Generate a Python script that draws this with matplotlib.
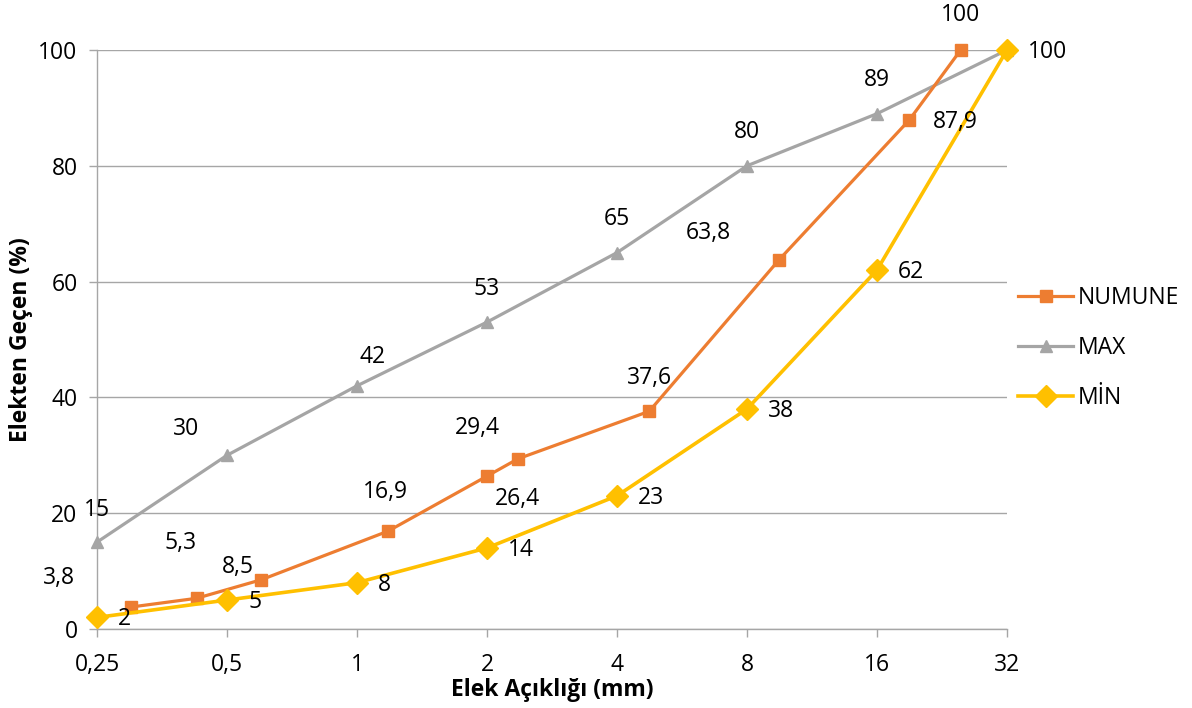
import matplotlib
matplotlib.use("Agg")
import matplotlib.pyplot as plt
from matplotlib.ticker import FixedLocator, NullLocator

plt.rcParams['font.family'] = ['Open Sans', 'DejaVu Sans']

# Sieve openings (mm) and percent passing
sieve_numune = [0.3, 0.425, 0.6, 1.18, 2.0, 2.36, 4.75, 9.5, 19.0, 25.0]
pass_numune = [3.8, 5.3, 8.5, 16.9, 26.4, 29.4, 37.6, 63.8, 87.9, 100]
label_numune = ["3,8", "5,3", "8,5", "16,9", "26,4", "29,4", "37,6", "63,8", "87,9", "100"]

sieve_limits = [0.25, 0.5, 1, 2, 4, 8, 16, 32]
pass_max = [15, 30, 42, 53, 65, 80, 89, 100]
pass_min = [2, 5, 8, 14, 23, 38, 62, 100]

x_ticks = [0.25, 0.5, 1, 2, 4, 8, 16, 32]
x_tick_labels = ["0,25", "0,5", "1", "2", "4", "8", "16", "32"]
y_ticks = [0, 20, 40, 60, 80, 100]

c_num = "#ED7D31"
c_max = "#A5A5A5"
c_min = "#FFC000"
grid_c = "#A6A6A6"
FS = 16.5

fig = plt.figure(figsize=(11.92, 7.08), dpi=100)
ax = fig.add_axes([97 / 1192, (708 - 629) / 708, 910 / 1192, 579 / 708])

ax.plot(sieve_numune, pass_numune, color=c_num, lw=2.3, marker="s",
        markersize=9, label="NUMUNE", zorder=4, clip_on=False)
ax.plot(sieve_limits, pass_max, color=c_max, lw=2.3, marker="^",
        markersize=9, label="MAX", zorder=3, clip_on=False)
ax.plot(sieve_limits, pass_min, color=c_min, lw=2.6, marker="D",
        markersize=11.5, label="MİN", zorder=5, clip_on=False)

ax.set_xscale("log", base=2)
ax.set_xlim(0.25, 32)
ax.set_ylim(0, 100)
ax.xaxis.set_major_locator(FixedLocator(x_ticks))
ax.xaxis.set_minor_locator(NullLocator())
ax.set_xticklabels(x_tick_labels)
ax.set_yticks(y_ticks)

ax.grid(axis="y", color=grid_c, lw=1)
ax.set_axisbelow(True)
for s in ["top", "right"]:
    ax.spines[s].set_visible(False)
for s in ["left", "bottom"]:
    ax.spines[s].set_color(grid_c)
    ax.spines[s].set_linewidth(1)
ax.tick_params(axis="both", colors=grid_c, length=6, width=1,
               labelcolor="black", labelsize=FS)
ax.tick_params(axis="x", pad=11)
ax.tick_params(axis="y", pad=8)

ax.set_xlabel("Elek Açıklığı (mm)", fontsize=16.5, fontweight="bold", labelpad=1)
ax.set_ylabel("Elekten Geçen (%)", fontsize=16.5, fontweight="bold", labelpad=4)

lab_kw = dict(textcoords="offset pixels", fontsize=FS, ha="center",
              va="center", zorder=6)

# NUMUNE value labels
num_offsets = [(-72, 29), (-16, 55), (-23, 13), (-3, 39), (30, -23),
               (-41, 31), (0, 33), (-71, 27), (46, -2), (0, 35)]
for x, y, t, off in zip(sieve_numune, pass_numune, label_numune, num_offsets):
    ax.annotate(t, (x, y), xytext=off, **lab_kw)

# MAX value labels (last one coincides with the MİN label)
max_offsets = [(0, 32), (-41, 26), (16, 29), (0, 33), (0, 34), (0, 34), (0, 34)]
for x, y, off in zip(sieve_limits[:-1], pass_max[:-1], max_offsets):
    ax.annotate(str(y), (x, y), xytext=off, **lab_kw)

# MİN value labels to the right of each point
for x, y in zip(sieve_limits, pass_min):
    ax.annotate(str(y), (x, y), xytext=(21, -2), textcoords="offset pixels",
                fontsize=FS, ha="left", va="center", zorder=6)

fig.legend(loc="center left", bbox_to_anchor=(1018 / 1192, (708 - 348) / 708),
           frameon=False, fontsize=FS, handlelength=2.4, handletextpad=0.2,
           labelspacing=1.15, borderpad=0, borderaxespad=0)

fig.savefig("out.png", dpi=100)
